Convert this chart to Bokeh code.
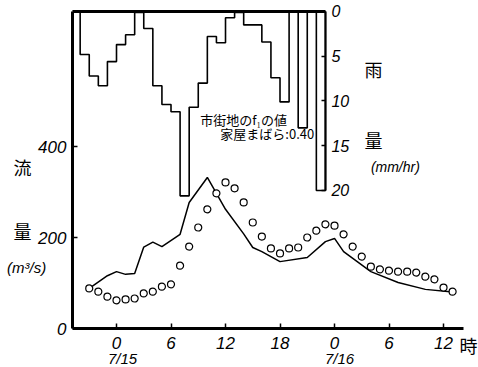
from bokeh.plotting import figure
from bokeh.models import Range1d, FixedTicker, LinearAxis
from bokeh.embed import file_html
from bokeh.resources import INLINE
from bokeh.core.properties import value

# Hours counted from 0:00 on 7/15
rain_hours = list(range(-4, 23))            # start hour of each hourly block
rain_mm = [4.8, 7.2, 8.3, 5.6, 3.7, 2.6, 0.1, 1.9, 8.3, 10.4,
           11.2, 20.6, 10.7, 8.0, 2.8, 3.5, 0.7, 0.1, 1.5, 1.5,
           3.4, 7.4, 10.1, 0.0, 13.0, 0.0, 20.0]

calc_hours = [-3, -1, 0, 1, 2, 3, 4, 5, 7, 8, 10, 12, 14, 15, 16, 18,
              21, 23, 24, 25, 28, 31, 34, 37]
calc_q = [88, 116, 125, 119, 121, 179, 190, 180, 207, 277, 332, 262, 208,
          178, 169, 147, 156, 191, 198, 169, 125, 101, 86, 80]

obs_hours = list(range(-3, 38))
obs_q = [88, 81, 70, 62, 64, 66, 77, 81, 92, 97,
         138, 180, 222, 262, 297, 321, 308, 277, 233, 202,
         176, 165, 176, 178, 200, 215, 229, 226, 207, 180,
         158, 136, 130, 127, 125, 125, 123, 114, 108, 90, 81]

x_ticks = [0, 6, 12, 18, 24, 30, 36]
x_tick_labels = ["0", "6", "12", "18", "0", "6", "12"]
y_ticks = [0, 200, 400]
rain_ticks = [0, 5, 10, 15, 20]

x_start, x_end = -4.85, 38.2     # extent of the hour axis
q_top = 697                      # top of the discharge axis

NUM_FONT = "Liberation Sans"
CJK_FONT = "Noto Sans CJK JP"

p = figure(width=478, height=367, output_backend="svg", toolbar_location=None,
           x_range=Range1d(-12.77, 39.85), y_range=Range1d(-85.7, 720.9),
           x_axis_location=None, y_axis_location=None, min_border=0)
p.extra_y_ranges = {"rain": Range1d(start=39.78, end=-1.229)}
p.grid.visible = False
p.outline_line_color = None
p.background_fill_color = "white"
p.border_fill_color = "white"


def style(ax, size="17px"):
    ax.axis_line_color = "black"
    ax.major_tick_in = 5
    ax.major_tick_out = 0
    ax.major_tick_line_width = 1.5
    ax.major_tick_line_color = "black"
    ax.minor_tick_line_color = None
    ax.major_label_text_font = NUM_FONT
    ax.major_label_text_font_style = "italic"
    ax.major_label_text_font_size = size
    ax.major_label_text_color = "black"


xaxis = LinearAxis(ticker=FixedTicker(ticks=x_ticks), fixed_location=0,
                   bounds=(x_start, x_end), axis_line_width=3,
                   major_label_overrides=dict(zip(x_ticks, x_tick_labels)),
                   major_label_standoff=8)
style(xaxis)
p.add_layout(xaxis, "below")

yaxis = LinearAxis(ticker=FixedTicker(ticks=y_ticks), fixed_location=x_start,
                   bounds=(0, q_top), axis_line_width=3, major_label_standoff=6)
style(yaxis)
p.add_layout(yaxis, "left")

# Hyetograph (inverted, hanging from the top)
axis_hour = rain_hours[-1] + 1
step_x = [rain_hours[0]] + rain_hours + [axis_hour]
step_y = [0] + rain_mm + [0]
p.step(step_x, step_y, mode="after", y_range_name="rain",
       line_color="black", line_width=1.6)
p.segment(x0=[x_start], y0=[0], x1=[axis_hour], y1=[0],
          y_range_name="rain", line_color="black", line_width=3)

rain_axis = LinearAxis(y_range_name="rain", ticker=FixedTicker(ticks=rain_ticks),
                       fixed_location=axis_hour, bounds=(rain_ticks[0], rain_ticks[-1]),
                       axis_line_width=2, major_label_standoff=6)
style(rain_axis, "16px")
rain_axis.major_tick_in = 4
p.add_layout(rain_axis, "right")

p.text(x=[28.3, 28.3], y=[6.4, 14.4], text=["雨", "量"], y_range_name="rain",
       text_align="center", text_baseline="middle",
       text_font=value(CJK_FONT), text_font_size="18px", text_color="black")
p.text(x=[30.7], y=[17.4], text=["(mm/hr)"], y_range_name="rain",
       text_align="center", text_baseline="middle",
       text_font=value(NUM_FONT), text_font_style="italic",
       text_font_size="14px", text_color="black")

# Discharge
p.line(calc_hours, calc_q, line_color="black", line_width=1.5)
p.scatter(obs_hours, obs_q, marker="circle", size=7, fill_color="white",
          line_color="black", line_width=1.2)

# Annotation
p.text(x=[14.0, 16.6], y=[459, 428], text=["市街地のf₁の値", "家屋まばら:0.40"],
       text_align="center", text_baseline="middle",
       text_font=value(CJK_FONT), text_font_size="13px", text_color="black")

# Axis titles and date labels
p.text(x=[-10.35, -10.35, 38.75], y=[356, 215, -37], text=["流", "量", "時"],
       text_align="center", text_baseline="middle",
       text_font=value(CJK_FONT), text_font_size="18px", text_color="black")
p.text(x=[-9.9], y=[134], text=["(m³/s)"],
       text_align="center", text_baseline="middle",
       text_font=value(NUM_FONT), text_font_style="italic",
       text_font_size="15px", text_color="black")
p.text(x=[0.66, 24.55], y=[-66, -66], text=["7/15", "7/16"],
       text_align="center", text_baseline="middle",
       text_font=value(NUM_FONT), text_font_style="italic",
       text_font_size="15px", text_color="black")

open("out.html", "w").write(file_html(p, INLINE))
